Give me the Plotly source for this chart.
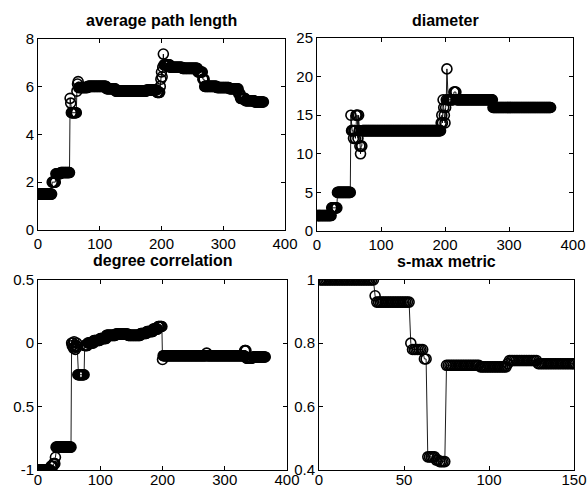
import numpy as np
import plotly.graph_objects as go

# ---- network metrics per step (run-length: level, number of consecutive steps) ----
apl_levels = [1.5, 2.0, 2.35, 2.4, 5.5, 5.3, 4.9, 5.8, 6.1, 6.2, 5.95, 6.0, 5.9, 5.8,
              5.85, 5.75, 6.0, 6.3, 6.6, 6.4, 6.8, 7.35, 6.9, 6.8, 6.75, 6.6, 6.3,
              6.0, 5.95, 5.9, 5.7, 5.5, 5.4, 5.35]
apl_counts = [22, 6, 8, 15, 1, 1, 9, 1, 1, 1, 15, 30, 15, 50,
              17, 5, 1, 1, 1, 1, 1, 1, 10, 20, 25, 8, 3,
              20, 20, 15, 3, 8, 15, 15]

diam_levels = [2, 3, 5, 15, 13, 12, 13, 12, 15, 12, 15, 13, 11, 10, 11, 13,
               14, 15, 14, 17, 16, 15, 14, 16, 17, 21, 17, 18, 17, 16]
diam_counts = [22, 9, 21, 1, 3, 1, 2, 1, 3, 1, 1, 1, 1, 1, 2, 123,
               1, 1, 1, 1, 1, 1, 1, 1, 1, 1, 10, 4, 57, 91]

dc_levels = [-1.0, -0.97, -0.95, -0.9, -0.82, 0.0, -0.02, 0.0, -0.04, 0.01, -0.03,
             -0.05, -0.02, 0.0, -0.03, -0.25, -0.02, 0.0, 0.02, 0.035, 0.06, 0.07,
             0.06, 0.075, 0.09, 0.11, 0.13, -0.13, -0.1, -0.08, -0.1, -0.06, -0.12, -0.11]
dc_counts = [20, 4, 3, 1, 25, 1, 1, 1, 1, 1, 1,
             1, 1, 1, 1, 11, 5, 10, 10, 10, 15, 20,
             20, 10, 10, 8, 7, 1, 70, 1, 60, 3, 10, 21]

smax_levels = [1.0, 0.95, 0.93, 0.80, 0.78, 0.75, 0.44, 0.43, 0.425,
               0.73, 0.725, 0.735, 0.745, 0.735]
smax_counts = [32, 1, 20, 1, 7, 2, 5, 2, 4, 20, 16, 1, 17, 22]

# ---- axis ticks ----
x_ticks_long = [0, 100, 200, 300, 400]
x_ticks_smax = [0, 50, 100, 150]
apl_ticks = [0, 2, 4, 6, 8]
diam_ticks = [0, 5, 10, 15, 20, 25]
dc_ticks = [-1, -0.5, 0, 0.5]
dc_tick_text = ["-1", "0.5", "0", "0.5"]
smax_ticks = [0.4, 0.6, 0.8, 1.0]
smax_tick_text = ["0.4", "0.6", "0.8", "1"]

titles = ["average path length", "diameter", "degree correlation", "s-max metric"]


def expand(levels, counts):
    y = np.repeat(np.asarray(levels, dtype=float), counts)
    x = np.arange(1, len(y) + 1)
    return x, y


W, H = 587, 489
# axes boxes in pixels: (left, right, top, bottom)
boxes = [(38, 285, 38.5, 230), (317, 573, 38, 231),
         (38, 287, 279.5, 470), (319, 574, 280, 469.5)]

series = [expand(apl_levels, apl_counts), expand(diam_levels, diam_counts),
          expand(dc_levels, dc_counts), expand(smax_levels, smax_counts)]

tick_font = dict(family="Liberation Sans, Arial, sans-serif", size=15, color="black")

fig = go.Figure()
layout = {}
axis_common = dict(showline=True, linecolor="black", linewidth=1, mirror="ticks",
                   ticks="inside", ticklen=4, tickcolor="black", tickwidth=1,
                   showgrid=False, zeroline=False, tickfont=tick_font,
                   automargin=False, fixedrange=True)

x_specs = [(0, 400, x_ticks_long), (0, 400, x_ticks_long),
           (0, 400, x_ticks_long), (0, 150, x_ticks_smax)]
y_specs = [(0, 8, apl_ticks, None), (0, 25, diam_ticks, None),
           (-1, 0.5, dc_ticks, dc_tick_text), (0.4, 1.0, smax_ticks, smax_tick_text)]

for i, ((x, y), (l, r, t, b)) in enumerate(zip(series, boxes)):
    n = "" if i == 0 else str(i + 1)
    xa, ya = "x" + n, "y" + n
    fig.add_trace(go.Scatter(
        x=x, y=y, mode="lines+markers", xaxis=xa, yaxis=ya,
        line=dict(color="black", width=0.9),
        marker=dict(symbol="circle-open", size=10, color="black",
                    line=dict(width=1.6, color="black")),
        showlegend=False, hoverinfo="skip"))
    x0, x1, xt = x_specs[i]
    y0, y1, yt, ytt = y_specs[i]
    xdict = dict(axis_common, domain=[l / W, r / W], range=[x0, x1],
                 tickvals=xt, anchor=ya)
    if i >= 2:
        # lower row: pull tick labels up against the bottom edge
        xdict["ticklabelstandoff"] = -4
    layout["xaxis" + n] = xdict
    ydict = dict(axis_common, domain=[(H - b) / H, (H - t) / H], range=[y0, y1],
                 tickvals=yt, anchor=xa)
    if ytt is not None:
        ydict["ticktext"] = ytt
    layout["yaxis" + n] = ydict

annotations = []
title_y = [21, 20, 260, 261]
for i, (l, r, t, b) in enumerate(boxes):
    annotations.append(dict(
        text="<b>" + titles[i] + "</b>", x=(l + r) / 2 / W, y=(H - title_y[i]) / H,
        xref="paper", yref="paper", xanchor="center", yanchor="middle",
        showarrow=False,
        font=dict(family="Liberation Sans, Arial, sans-serif", size=16, color="black")))

fig.update_layout(width=W, height=H, margin=dict(l=0, r=0, t=0, b=0),
                  paper_bgcolor="white", plot_bgcolor="white",
                  annotations=annotations, **layout)

fig.write_html("out.html")
